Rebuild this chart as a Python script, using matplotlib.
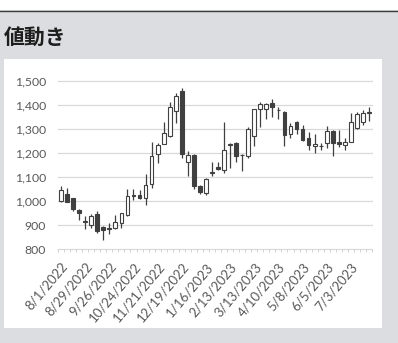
import matplotlib
matplotlib.use("Agg")
import matplotlib.pyplot as plt
from matplotlib.patches import Rectangle
from matplotlib.lines import Line2D

# ---------------- data ----------------
dates = ["8/1/2022", "8/8/2022", "8/15/2022", "8/22/2022", "8/29/2022", "9/5/2022", "9/12/2022",
         "9/19/2022", "9/26/2022", "10/3/2022", "10/10/2022", "10/17/2022", "10/24/2022", "10/31/2022",
         "11/7/2022", "11/14/2022", "11/21/2022", "11/28/2022", "12/5/2022", "12/12/2022", "12/19/2022",
         "12/26/2022", "1/2/2023", "1/9/2023", "1/16/2023", "1/23/2023", "1/30/2023", "2/6/2023",
         "2/13/2023", "2/20/2023", "2/27/2023", "3/6/2023", "3/13/2023", "3/20/2023", "3/27/2023",
         "4/3/2023", "4/10/2023", "4/17/2023", "4/24/2023", "5/1/2023", "5/8/2023", "5/15/2023",
         "5/22/2023", "5/29/2023", "6/5/2023", "6/12/2023", "6/19/2023", "6/26/2023", "7/3/2023",
         "7/10/2023", "7/17/2023", "7/24/2023"]

opens = [1000, 1030, 1012, 965, 915, 900, 945, 893, 885, 889, 910, 941, 1020, 1027, 1013, 1072,
         1197, 1240, 1270, 1377, 1458, 1162, 1193, 1064, 1033, 1118, 1141, 1128, 1238, 1241, 1193,
         1186, 1270, 1382, 1385, 1407, 1380, 1373, 1280, 1329, 1300, 1262, 1228, 1231, 1241, 1290,
         1248, 1233, 1248, 1305, 1330, 1368]
highs = [1062, 1055, 1015, 968, 937, 945, 958, 895, 908, 943, 952, 1050, 1050, 1048, 1115, 1245,
         1242, 1330, 1413, 1450, 1470, 1207, 1195, 1068, 1097, 1165, 1164, 1330, 1241, 1245, 1196,
         1310, 1384, 1414, 1408, 1426, 1390, 1375, 1325, 1332, 1318, 1286, 1280, 1242, 1313, 1296,
         1297, 1262, 1366, 1370, 1380, 1393]
lows = [998, 995, 960, 922, 884, 890, 866, 840, 862, 885, 888, 938, 1005, 1010, 983, 1055,
        1160, 1238, 1268, 1325, 1178, 1103, 1050, 1030, 1025, 1106, 1128, 1118, 1137, 1165, 1127,
        1179, 1230, 1310, 1340, 1349, 1340, 1231, 1265, 1280, 1252, 1214, 1200, 1212, 1220, 1190,
        1225, 1211, 1246, 1300, 1318, 1335]
closes = [1045, 997, 968, 950, 918, 940, 876, 879, 890, 915, 950, 1020, 1025, 1013, 1068, 1188,
          1232, 1285, 1390, 1438, 1197, 1193, 1064, 1037, 1092, 1122, 1133, 1215, 1232, 1186, 1191,
          1300, 1382, 1403, 1403, 1392, 1378, 1276, 1313, 1300, 1256, 1232, 1238, 1229, 1290, 1242,
          1240, 1248, 1328, 1362, 1366, 1370]

y_ticks = [800, 900, 1000, 1100, 1200, 1300, 1400, 1500]
y_tick_labels = ["800", "900", "1,000", "1,100", "1,200", "1,300", "1,400", "1,500"]
title = "値動き"
label_every = 4

# ---------------- figure ----------------
W, H = 398, 343
fig = plt.figure(figsize=(W / 100, H / 100), dpi=100)
fig.patch.set_facecolor("#dcdde0")

# top white strip + dark rule
fig.patches.append(Rectangle((0, 1 - 10 / H), 1, 10 / H, transform=fig.transFigure,
                             facecolor="white", edgecolor="none", zorder=-2))
fig.lines.append(Line2D([0, 1], [1 - 10.5 / H, 1 - 10.5 / H], transform=fig.transFigure,
                        color="#3c3c3c", linewidth=1.0, zorder=-1))
# white panel
fig.patches.append(Rectangle((4 / W, (H - 327.5) / H), 378 / W, 269 / H, transform=fig.transFigure,
                             facecolor="white", edgecolor="none", zorder=-2))

fig.text(4 / W, 1 - 37 / H, title, ha="left", va="center", fontsize=15, fontweight="bold",
         family=["Noto Sans CJK JP", "DejaVu Sans"], color="#1e1e1e")

ax = fig.add_axes([58 / W, (H - 249.3) / H, (372 - 58) / W, (249.3 - 81) / H])
ax.set_zorder(2)
ax.set_facecolor("none")
n = len(opens)
xs = list(range(n))
ax.set_xlim(-0.5, n - 0.5)
ax.set_ylim(y_ticks[0], y_ticks[-1])

for s in ax.spines.values():
    s.set_visible(False)

for yv in y_ticks:
    ax.axhline(yv, color="#d9d9d9", linewidth=0.9, zorder=1, clip_on=False)

edge = "#404040"
ax.vlines(xs, lows, highs, color=edge, linewidth=0.9, zorder=2)
bottoms = [min(o, c) for o, c in zip(opens, closes)]
heights = [max(abs(c - o), 2) for o, c in zip(opens, closes)]
colors = ["white" if c >= o else edge for o, c in zip(opens, closes)]
ax.bar(xs, heights, bottom=bottoms, width=0.62, color=colors, edgecolor=edge,
       linewidth=0.8, zorder=3)

ax.set_yticks(y_ticks)
ax.set_yticklabels(y_tick_labels)
ax.tick_params(axis="y", length=0, pad=8.5, labelsize=8.8, labelcolor="#595959")

ax.set_xticks(xs[::label_every])
ax.set_xticklabels(dates[::label_every], rotation=50, ha="right", va="top", rotation_mode="anchor")
ax.set_xticks([i - 0.5 for i in range(n + 1)], minor=True)
ax.tick_params(axis="x", which="major", length=0, pad=8, labelsize=9.5, labelcolor="#595959")
ax.tick_params(axis="x", which="minor", length=2.5, width=0.7, color="#d0d0d0")

for lab in ax.get_xticklabels() + ax.get_yticklabels():
    lab.set_family(["Lato", "DejaVu Sans"])

fig.savefig("out.png", dpi=100, facecolor=fig.get_facecolor())
